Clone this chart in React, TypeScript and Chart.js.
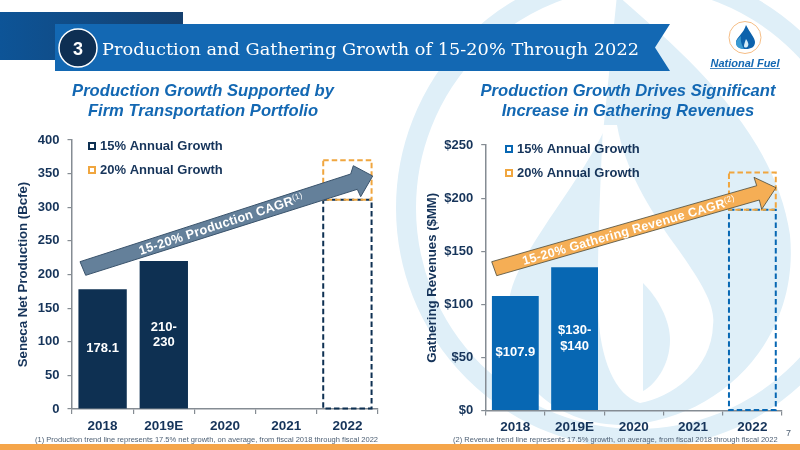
import React, { useEffect, useRef } from "react";
import { Chart, registerables } from "chart.js";

Chart.register(...registerables);

const categories = ["2018", "2019E", "2020", "2021", "2022"];

const leftTicks = [0, 50, 100, 150, 200, 250, 300, 350, 400];
const leftActual = [178.1, 220, null, null, null];
const leftLow = [null, null, null, null, 311];
const leftHigh = [null, null, null, null, [311, 370]];
const leftBarText = [["178.1"], ["210-", "230"]];

const rightTicks = [0, 50, 100, 150, 200, 250];
const rightActual = [107.9, 135, null, null, null];
const rightLow = [null, null, null, null, 189];
const rightHigh = [null, null, null, null, [189, 224]];
const rightBarText = [["$107.9"], ["$130-", "$140"]];

const lowLabel = "15% Annual Growth";
const highLabel = "20% Annual Growth";

const NAVY = "#0e3052";
const BLUE = "#0767b3";
const ORANGE = "#f0a63f";
const TEXT = "#16345a";
const AXIS = "#858c93";
const FONT = "'Liberation Sans', Arial, sans-serif";

function legendBox(color: string) {
  const cv = document.createElement("canvas");
  cv.width = 10;
  cv.height = 10;
  const g = cv.getContext("2d") as CanvasRenderingContext2D;
  g.strokeStyle = color;
  g.lineWidth = 2;
  g.strokeRect(2, 2, 6, 6);
  return cv;
}

const overlayPlugin = {
  id: "overlay",
  afterLayout(chart: any) {
    const o = chart.options.plugins.overlay;
    chart.legend.left = chart.chartArea.left + o.legendDx;
    chart.legend.top = chart.chartArea.top + o.legendDy;
  },
  afterDatasetsDraw(chart: any) {
    const o = chart.options.plugins.overlay;
    const ctx = chart.ctx;
    ctx.save();
    chart.data.datasets.forEach((ds: any, i: number) => {
      if (!ds.dashColor) return;
      chart.getDatasetMeta(i).data.forEach((el: any, j: number) => {
        if (ds.data[j] == null) return;
        const p = el.getProps(["x", "y", "base", "width"], true);
        ctx.strokeStyle = ds.dashColor;
        ctx.lineWidth = 2;
        ctx.setLineDash([5.5, 3]);
        ctx.strokeRect(p.x - p.width / 2, p.y, p.width, p.base - p.y);
      });
    });
    ctx.setLineDash([]);
    ctx.fillStyle = "#ffffff";
    ctx.font = `bold 13px ${FONT}`;
    ctx.textAlign = "center";
    ctx.textBaseline = "middle";
    chart.getDatasetMeta(0).data.forEach((el: any, j: number) => {
      const lines = o.barText[j];
      if (!lines) return;
      const p = el.getProps(["x", "y", "base"], true);
      const mid = (p.y + p.base) / 2;
      lines.forEach((t: string, k: number) => {
        ctx.fillText(t, p.x, mid + (k - (lines.length - 1) / 2) * 15.5);
      });
    });
    ctx.restore();
  },
};

function config(c: any) {
  const font = { family: FONT, weight: "bold" as const, size: 13 };
  const xFont = { family: FONT, weight: "bold" as const, size: 13.5 };
  const shared = { grouped: false, barPercentage: 0.79, categoryPercentage: 1 };
  return {
    type: "bar",
    data: {
      labels: categories,
      datasets: [
        { label: "Actual", data: c.actual, backgroundColor: c.color, ...shared },
        { label: lowLabel, data: c.low, backgroundColor: "transparent", dashColor: c.color, ...shared },
        { label: highLabel, data: c.high, backgroundColor: "transparent", dashColor: ORANGE, ...shared },
      ],
    },
    options: {
      responsive: false,
      animation: false,
      layout: { autoPadding: false, padding: { left: 0, top: c.top, right: c.right, bottom: 0 } },
      plugins: {
        tooltip: { enabled: false },
        title: { display: false },
        overlay: { barText: c.barText, legendDx: c.legendDx, legendDy: c.legendDy },
        legend: {
          display: true,
          position: "chartArea",
          align: "start",
          labels: {
            color: TEXT,
            font,
            usePointStyle: true,
            pointStyleWidth: 3,
            boxHeight: 10,
            padding: 11,
            generateLabels: () => [
              { text: lowLabel, pointStyle: legendBox(c.color), fontColor: TEXT, fillStyle: "transparent", strokeStyle: "transparent" },
              { text: highLabel, pointStyle: legendBox(ORANGE), fontColor: TEXT, fillStyle: "transparent", strokeStyle: "transparent" },
            ],
          },
        },
      },
      scales: {
        x: {
          afterFit: (s: any) => { s.height = c.bottomH; },
          grid: { offset: true, drawOnChartArea: false, drawTicks: true, tickLength: 5, color: AXIS, lineWidth: 1.2 },
          border: { color: AXIS, width: 1.5 },
          ticks: { color: TEXT, font: xFont, padding: 4, maxRotation: 0 },
        },
        y: {
          min: c.ticks[0],
          max: c.ticks[c.ticks.length - 1],
          afterFit: (s: any) => { s.width = c.leftW; },
          grid: { drawOnChartArea: false, drawTicks: true, tickLength: 4.5, color: AXIS, lineWidth: 1.2 },
          border: { color: AXIS, width: 1.5 },
          ticks: { color: TEXT, font, stepSize: c.ticks[1] - c.ticks[0], padding: 8, callback: c.fmt },
          title: { display: true, text: c.title, color: TEXT, font: { family: FONT, weight: "bold", size: 13.2 }, padding: { top: c.titleTop, bottom: 0 } },
        },
      },
    },
    plugins: [overlayPlugin],
  };
}

function BarChart({ left, c }: any) {
  const ref = useRef<HTMLCanvasElement | null>(null);
  useEffect(() => {
    const chart = new Chart(ref.current as any, config(c) as any);
    return () => chart.destroy();
  }, []);
  return <canvas ref={ref} width={400} height={450} style={{ position: "absolute", left, top: 0, width: 400, height: 450 }} />;
}

const leftCfg = {
  actual: leftActual, low: leftLow, high: leftHigh, barText: leftBarText, ticks: leftTicks, color: NAVY,
  top: 140, right: 22, leftW: 72, bottomH: 41, titleTop: 15, title: "Seneca Net Production (Bcfe)",
  legendDx: 7.5, legendDy: -11.5, fmt: (v: any) => `${v}`,
};
const rightCfg = {
  actual: rightActual, low: rightLow, high: rightHigh, barText: rightBarText, ticks: rightTicks, color: BLUE,
  top: 145, right: 18, leftW: 85.7, bottomH: 39.5, titleTop: 24, title: "Gathering Revenues ($MM)",
  legendDx: 10.8, legendDy: -13.5, fmt: (v: any) => `$${v}`,
};

const LIGHT = "#dfeff8";

function Background() {
  return (
    <svg width={800} height={450} style={{ position: "absolute", left: 0, top: 0 }}>
      <circle cx={637} cy={208} r={231} fill="none" stroke={LIGHT} strokeWidth={20} />
      <path d="M617,-5 C680,50 775,130 790,235 C800,340 720,420 625,425 C540,425 495,360 510,295 C520,250 575,190 603,133 L603,133 Z" fill={LIGHT} />
      <path d="M603,125 L617,125 C625,170 650,210 675,245 C700,280 716,305 713,325 C712,370 670,398 640,403 C615,395 600,360 598,310 C597,260 600,190 603,125 Z" fill="#ffffff" />
      <path d="M643,283 C658,298 670,320 670,340 C670,365 655,385 643,391 Z" fill={LIGHT} />
    </svg>
  );
}

function Foreground() {
  return (
    <svg width={800} height={450} style={{ position: "absolute", left: 0, top: 0, pointerEvents: "none" }}>
      <defs>
        <linearGradient id="band" x1="0" x2="1" y1="0" y2="0">
          <stop offset="0" stopColor="#0d5497" />
          <stop offset="1" stopColor="#15406f" />
        </linearGradient>
      </defs>
      <rect x={0} y={12} width={183} height={48} fill="url(#band)" />
      <polygon points="55,24 670,24 655,47.5 670,71 55,71" fill="#1368b3" />
      <circle cx={78} cy={48} r={19} fill="#0e2f53" stroke="#ffffff" strokeWidth={1.5} />
      <text x={78} y={54.5} textAnchor="middle" fontFamily={FONT} fontWeight="bold" fontSize={18} fill="#ffffff">3</text>
      <text x={102} y={55} fontFamily="'DejaVu Serif', serif" fontSize={16.5} fill="#ffffff" textLength={537} lengthAdjust="spacingAndGlyphs">Production and Gathering Growth of 15-20% Through 2022</text>

      <circle cx={745} cy={37.5} r={16} fill="#ffffff" stroke="#f5bd85" strokeWidth={1} />
      <path d="M746,25 C750,33 755,38 755,42 C755,47 751,49 746,49 C740,49 736,47 736,42 C736,38 744,33 746,25 Z" fill="#0d62ac" />
      <path d="M741,36 C739,38 736,40 736,43 C736,47 740,49 744,49 C742,45 740,41 741,36 Z" fill="#3b9ad2" />
      <path d="M746,39 C748,42 749,44 748,46 C747,48 744,48 744,46 C744,44 745,42 746,39 Z" fill="#d6ecf7" />
      <text x={745} y={67} textAnchor="middle" fontFamily={FONT} fontStyle="italic" fontWeight="bold" fontSize={11} fill="#1368b3">National Fuel</text>
      <line x1={710} x2={780} y1={68.5} y2={68.5} stroke="#1368b3" strokeWidth={0.8} />

      <g fontFamily={FONT} fontStyle="italic" fontWeight="bold" fontSize={16.6} fill="#1368b3" textAnchor="middle">
        <text x={203} y={96}>Production Growth Supported by</text>
        <text x={203} y={116}>Firm Transportation Portfolio</text>
        <text x={628} y={96}>Production Growth Drives Significant</text>
        <text x={628} y={116}>Increase in Gathering Revenues</text>
      </g>

      <polygon points="80,261.7 350.7,174 353.3,165.7 372.7,176 360.7,196.7 357.3,189.3 85.7,275.3" fill="#64809a" stroke="#3a536c" strokeWidth={1} />
      <text transform="translate(222.5,228) rotate(-18.2)" textAnchor="middle" fontFamily={FONT} fontWeight="bold" fontSize={12.7} fill="#ffffff" letterSpacing={0.3}>
        15-20% Production CAGR<tspan fontSize={8} dy={-4} fontWeight="normal">(1)</tspan>
      </text>

      <polygon points="491.7,261.7 756.7,185.7 754,177.3 776,187.7 761.7,209.3 759.3,200 496.7,275.7" fill="#f5ae55" stroke="#4a4a3a" strokeWidth={0.8} />
      <text transform="translate(630,234.5) rotate(-16)" textAnchor="middle" fontFamily={FONT} fontWeight="bold" fontSize={12.5} fill="#ffffff" letterSpacing={0.3}>
        15-20% Gathering Revenue CAGR<tspan fontSize={8} dy={-4} fontWeight="normal">(2)</tspan>
      </text>

      <g fontFamily={FONT} fontSize={7.53} fill="#4d5f73">
        <text x={35} y={441.5}>(1) Production trend line represents 17.5% net growth, on average, from fiscal 2018 through fiscal 2022</text>
        <text x={453} y={441.5}>(2) Revenue trend line represents 17.5% growth, on average, from fiscal 2018 through fiscal 2022</text>
        <text x={786} y={436} fontSize={9}>7</text>
      </g>
      <rect x={0} y={444} width={800} height={6} fill="#f5a54a" />
    </svg>
  );
}

export default function App() {
  return (
    <div style={{ position: "fixed", left: 0, top: 0, width: 800, height: 450, overflow: "hidden", background: "#ffffff" }}>
      <Background />
      <BarChart left={0} c={leftCfg} />
      <BarChart left={400} c={rightCfg} />
      <Foreground />
    </div>
  );
}
